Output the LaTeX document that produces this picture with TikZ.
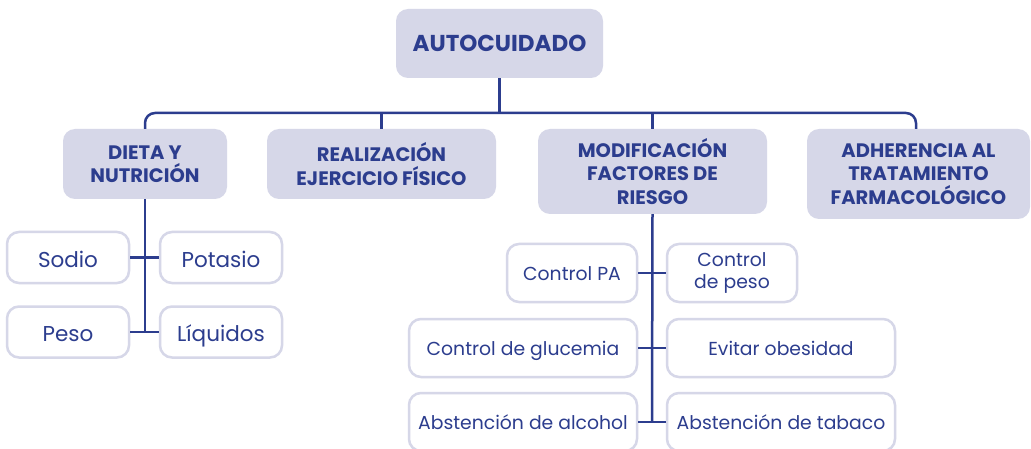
\documentclass[tikz,border=0pt]{standalone}
\usepackage{fontspec}
\setmainfont{Poppins}
\definecolor{navy}{HTML}{2C3D8E}
\definecolor{lav}{HTML}{D6D7E8}
\begin{document}
\begin{tikzpicture}[x=1pt,y=-1pt,
  head/.style={fill=lav, rounded corners=12pt, align=center, text=navy,
    font=\fontsize{19.5}{23.5}\selectfont\bfseries, inner sep=0pt},
  leaf/.style={draw=lav, line width=2.5pt, fill=white, rounded corners=12pt, align=center,
    text=navy, font=\fontsize{18.8}{22}\selectfont, inner sep=0pt, minimum height=58pt},
  one/.style={text height=14pt, text depth=0pt},
  dleaf/.style={leaf, text height=19pt, text depth=0pt, font=\fontsize{21.5}{24}\selectfont, minimum width=122pt, minimum height=51pt},
  conn/.style={draw=navy, line width=2.5pt}]
\clip (0,0) rectangle (1031,449);
\fill[white] (0,0) rectangle (1031,449);
% headers
\node[head, minimum width=207pt, minimum height=69pt, font=\fontsize{23}{26}\selectfont\bfseries] (auto) at (499.5,43.5) {AUTOCUIDADO};
\node[head, minimum width=164pt, minimum height=70pt] (dieta) at (145,164) {DIETA Y\\NUTRICIÓN};
\node[head, minimum width=229pt, minimum height=70pt] (real) at (381.5,164) {REALIZACIÓN\\EJERCICIO FÍSICO};
\node[head, minimum width=229pt, minimum height=85pt] (modif) at (652.5,171.5) {MODIFICACIÓN\\FACTORES DE\\RIESGO};
\node[head, minimum width=223pt, minimum height=90pt] (adher) at (918.5,174) {ADHERENCIA AL\\TRATAMIENTO\\FARMACOLÓGICO};
% connectors top
\coordinate (bar) at (0,113);
\draw[conn] (auto.south) -- (auto.south |- bar);
\draw[conn, rounded corners=10pt] (145,129) |- (916,113) -- (916,129);
\draw[conn] (real.north) -- (real.north |- bar);
\draw[conn] (modif.north) -- (modif.north |- bar);
% dieta leaves
\node[dleaf] (sodio) at (68,257.5) {Sodio};
\node[dleaf] (potasio) at (221,257.5) {Potasio};
\node[dleaf] (peso) at (68,332) {Peso};
\node[dleaf] (liq) at (221,332) {Líquidos};
\coordinate (dbot) at (145,332);
\draw[conn] (dieta.south) -- (dbot);
\draw[conn] (sodio.east) -- (potasio.west);
\draw[conn] (peso.east) -- (liq.west);
% modif leaves
\node[leaf, one, minimum width=130pt] (cpa) at (572,273) {Control PA};
\node[leaf, minimum width=130pt] (cpeso) at (732,273) {Control\\de peso};
\node[leaf, one, minimum width=228pt] (gluc) at (523,348) {Control de glucemia};
\node[leaf, one, minimum width=228pt] (obes) at (781,348) {Evitar obesidad};
\node[leaf, one, minimum width=228pt] (alc) at (523,422) {Abstención de alcohol};
\node[leaf, one, minimum width=228pt] (tab) at (781,422) {Abstención de tabaco};
\coordinate (mbot) at (652,422);
\draw[conn] (modif.south) -- (mbot);
\draw[conn] (cpa.east) -- (cpeso.west);
\draw[conn] (gluc.east) -- (obes.west);
\draw[conn] (alc.east) -- (tab.west);
\end{tikzpicture}
\end{document}
